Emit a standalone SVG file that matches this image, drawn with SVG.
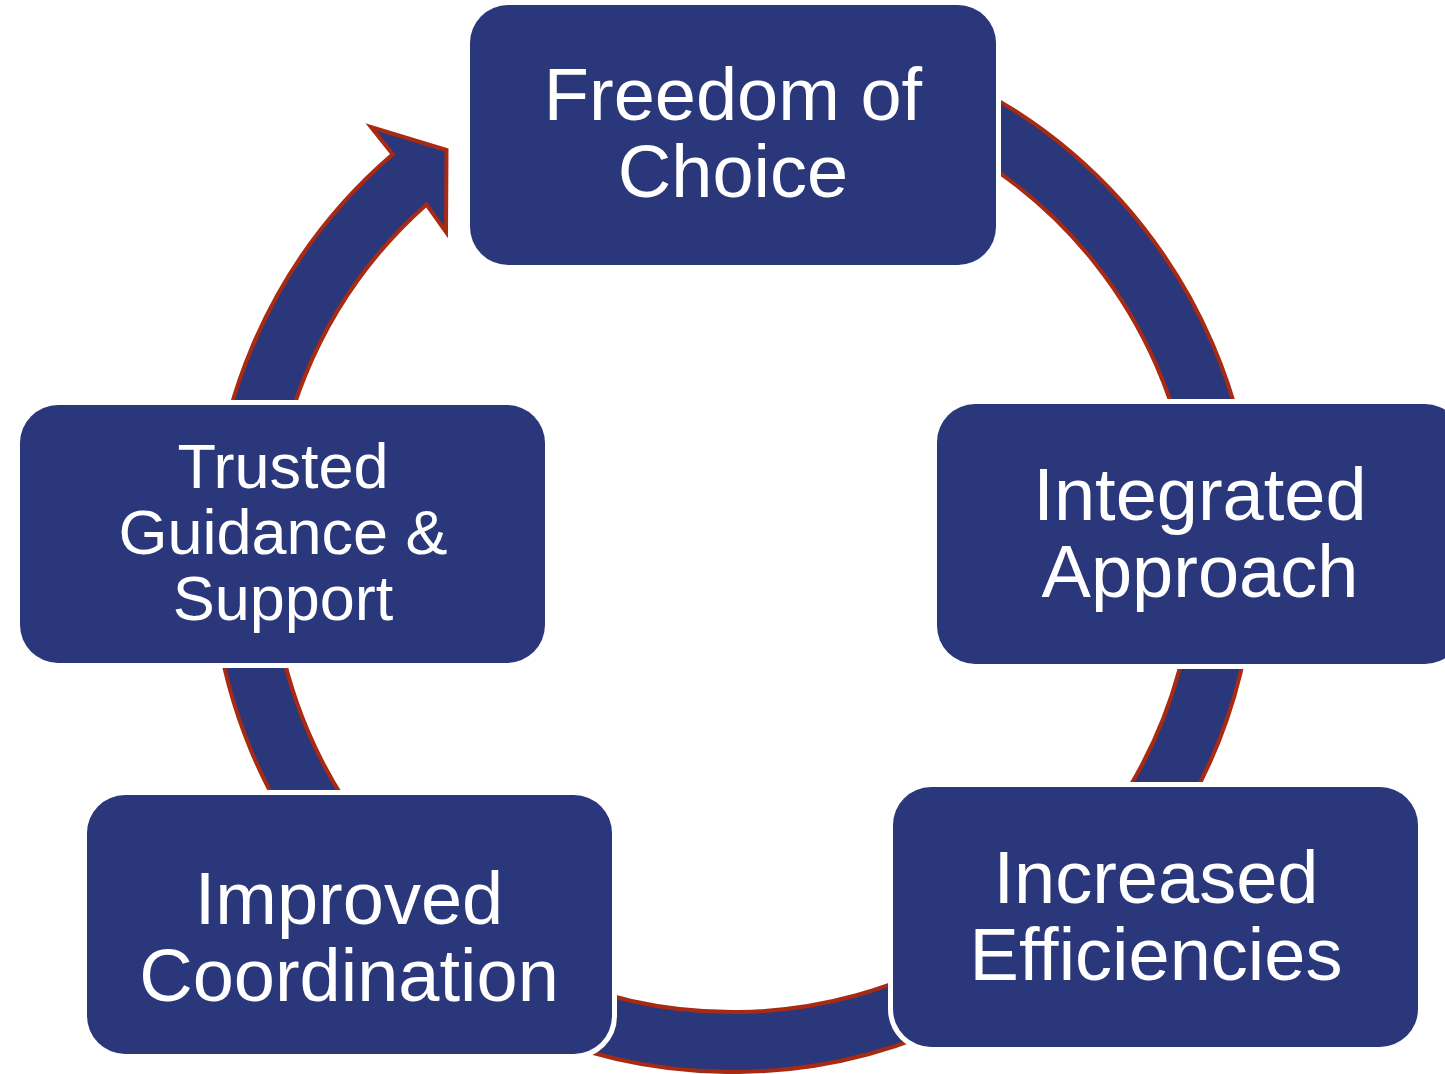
<svg xmlns="http://www.w3.org/2000/svg" width="1445" height="1074" viewBox="0 0 1445 1074">
  <style>
    .box { fill: #2B377B; stroke: #FFFFFF; stroke-width: 10; paint-order: stroke; }
    .lbl { fill: #FFFFFF; font-family: "Liberation Sans", Arial, sans-serif; text-anchor: middle; }
    .big { font-size: 74px; }
    .small { font-size: 63px; }
    .ring { fill: #2B377B; stroke: #A82A12; stroke-width: 4; stroke-linejoin: miter; }
  </style>
  <rect width="1445" height="1074" fill="#FFFFFF"/>
  <g id="connectors">
    <path class="ring" d="M 554.5 59.5 A 522 522 0 1 1 392.7 154.2 L 371 127 L 446.5 150 L 446 232 L 426.4 204.4 A 462 462 0 1 0 575 115.9 Z"/>
  </g>
  <g id="node-freedom">
    <rect class="box" x="470" y="5" width="526" height="260" rx="38" ry="38"/>
    <text class="lbl big" x="733" y="120">Freedom of</text>
    <text class="lbl big" x="733" y="197">Choice</text>
  </g>
  <g id="node-integrated">
    <rect class="box" x="937" y="404" width="526" height="260" rx="38" ry="38"/>
    <text class="lbl big" x="1200" y="520">Integrated</text>
    <text class="lbl big" x="1200" y="597">Approach</text>
  </g>
  <g id="node-increased">
    <rect class="box" x="893" y="787" width="525" height="260" rx="38" ry="38"/>
    <text class="lbl big" x="1156" y="903">Increased</text>
    <text class="lbl big" x="1156" y="980">Efficiencies</text>
  </g>
  <g id="node-improved">
    <rect class="box" x="87" y="795" width="525" height="259" rx="38" ry="38"/>
    <text class="lbl big" x="349" y="924">Improved</text>
    <text class="lbl big" x="349" y="1001">Coordination</text>
  </g>
  <g id="node-trusted">
    <rect class="box" x="20" y="405" width="525" height="258" rx="38" ry="38"/>
    <text class="lbl small" x="283" y="488">Trusted</text>
    <text class="lbl small" x="283" y="554">Guidance &amp;</text>
    <text class="lbl small" x="283" y="620">Support</text>
  </g>
</svg>
